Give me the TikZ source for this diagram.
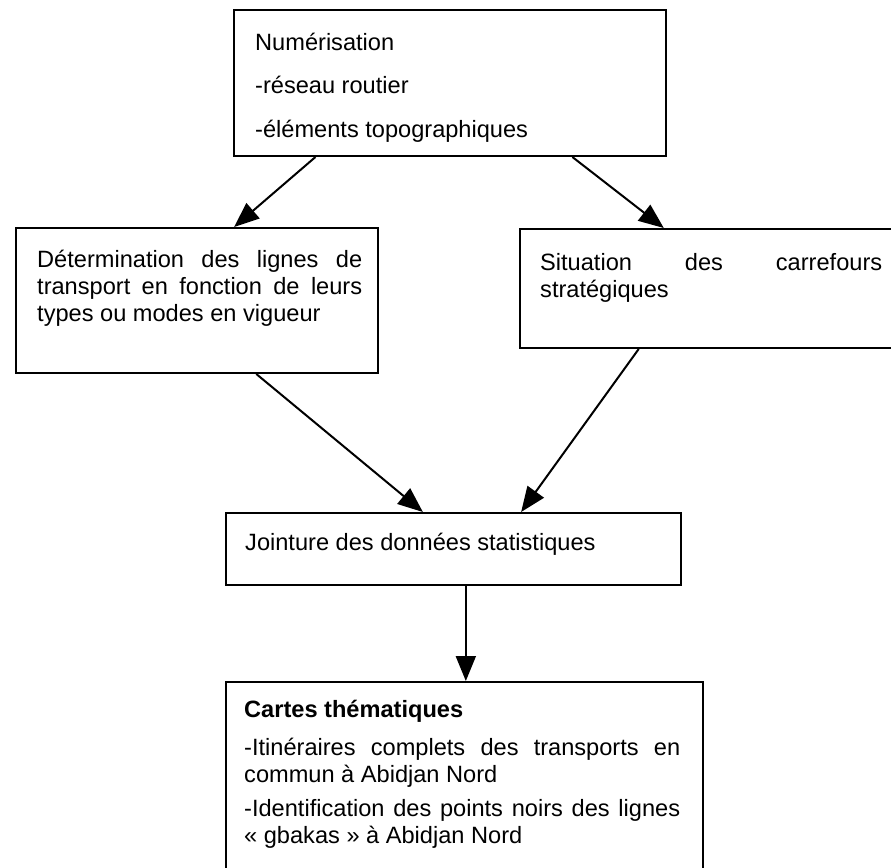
\documentclass[tikz,border=0pt]{standalone}
\usepackage{fontspec}
\setmainfont{Liberation Sans}
\usetikzlibrary{arrows.meta,calc}
\hyphenpenalty=10000
\tolerance=10000
\tikzset{
  stage/.style 2 args={draw, line width=2pt, minimum width=#1, minimum height=#2, inner sep=0pt, below right},
  stagetext/.style={inner sep=0pt, below right, font=\fontsize{23.6}{27}\selectfont, align=justify},
  flow/.style={-{Triangle[length=25pt,width=20pt]}, line width=2pt},
}
\begin{document}
\begin{tikzpicture}[x=1pt, y=-1pt]
\useasboundingbox (0,0) rectangle (891,867);
% numerisation
\node[stage={432pt}{146pt}] (numBox) at (233,9) {};
\node[stagetext, align=left] (numText) at (255,32.5) {Numérisation\\[16.5pt]-réseau routier\\[16.5pt]-éléments topographiques};

% lignes / carrefours
\node[stage={362pt}{145pt}] (lignesBox) at (15,227) {};
\node[stagetext, text width=325pt] (lignesText) at (37,249.5) {Détermination des lignes de\linebreak transport en fonction de leurs\linebreak types ou modes en vigueur};

\node[stage={378pt}{119pt}] (carrBox) at (519,228) {};
\node[stagetext, text width=342pt] (carrText) at (540,253) {Situation des carrefours\linebreak stratégiques};

% jointure
\node[stage={455pt}{72pt}] (jointBox) at (225,512) {};
\node[stagetext, align=left] (jointText) at (245,532.5) {Jointure des données statistiques};

% cartes
\node[stage={477pt}{200pt}] (cartesBox) at (225,681) {};
\node[stagetext, text width=436pt] (cartesText) at (244,699.5) {\textbf{Cartes thématiques}\par\vspace{11pt}-Itinéraires complets des transports en\linebreak commun à Abidjan Nord\par\vspace{7pt}-Identification des points noirs des lignes\linebreak «~gbakas~» à Abidjan Nord};

\draw[flow] ($(numBox.south west)!0.19!(numBox.south east)$) -- ($(lignesBox.north west)!0.602!(lignesBox.north east)$);
\draw[flow] ($(numBox.south west)!0.782!(numBox.south east)$) -- ($(carrBox.north west)!0.381!(carrBox.north east)$);
\draw[flow] ($(lignesBox.south west)!0.663!(lignesBox.south east)$) -- ($(jointBox.north west)!0.433!(jointBox.north east)$);
\draw[flow] ($(carrBox.south west)!0.315!(carrBox.south east)$) -- ($(jointBox.north west)!0.648!(jointBox.north east)$);
\coordinate (jointOut) at ($(jointBox.south west)!0.527!(jointBox.south east)$);
\draw[flow] (jointOut) -- (jointOut |- cartesBox.north);
\end{tikzpicture}
\end{document}
